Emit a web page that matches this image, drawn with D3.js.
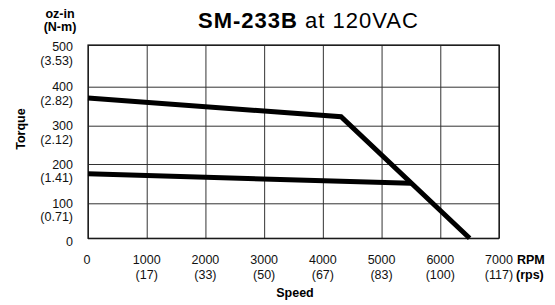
<!DOCTYPE html>
<html><head><meta charset="utf-8">
<script src="https://cdn.jsdelivr.net/npm/d3@7"></script>
<style>
html,body{margin:0;padding:0;background:#fff;}
svg{display:block;font-family:"Liberation Sans",Arial,Helvetica,sans-serif;}
</style></head>
<body>
<svg id="chart" width="555" height="305"></svg>
<script>
// ---- data ----
const speedTicks = [0,1000,2000,3000,4000,5000,6000,7000];
const speedRps   = ["","(17)","(33)","(50)","(67)","(83)","(100)","(117)"];
const torqueTicks = [0,100,200,300,400,500];
const torqueNm    = ["","(0.71)","(1.41)","(2.12)","(2.82)","(3.53)"];
const pulloutRpm    = [0,4310,6500];
const pulloutTorque = [371,323,0];
const pullinRpm     = [0,5500];
const pullinTorque  = [175,151];

const svg = d3.select("#chart");
const L=88, R=499, T=45, B=238.3;
const x = d3.scaleLinear().domain([0,7000]).range([L,R]);
// grid in the source is slightly non-uniform; follow it piecewise
const y = d3.scaleLinear().domain(torqueTicks).range([B,203.3,164,125.7,86.7,T]);

// grid via axes
const gx = svg.append("g").attr("transform",`translate(0,${B})`)
  .call(d3.axisBottom(x).tickValues(speedTicks).tickSize(-(B-T)).tickFormat(""));
const gy = svg.append("g").attr("transform",`translate(${L},0)`)
  .call(d3.axisLeft(y).tickValues(torqueTicks).tickSize(-(R-L)).tickFormat(""));
[gx,gy].forEach(g=>{
  g.select(".domain").remove();
  g.selectAll(".tick line").attr("stroke","#333").attr("stroke-width",1);
});
// frame
svg.append("rect").attr("x",L).attr("y",T).attr("width",R-L).attr("height",B-T)
  .attr("fill","none").attr("stroke","#111").attr("stroke-width",1.2);

// curves
const line = d3.line().x(d=>x(d[0])).y(d=>y(d[1]));
svg.append("path").datum(pulloutRpm.map((r,i)=>[r,pulloutTorque[i]]))
  .attr("d",line).attr("fill","none").attr("stroke","#000").attr("stroke-width",5)
  .attr("stroke-linejoin","miter");
svg.append("path").datum(pullinRpm.map((r,i)=>[r,pullinTorque[i]]))
  .attr("d",line).attr("fill","none").attr("stroke","#000").attr("stroke-width",5);

// y tick labels
const FS = 12.5, LH = 13.6;
const yl = svg.append("g").attr("font-size",FS).attr("text-anchor","end").attr("fill","#111");
torqueTicks.forEach((v,i)=>{
  const yy = y(v);
  const off = v===0 ? 8 : (v===500 ? 6 : 4.5);
  yl.append("text").attr("x",73).attr("y", yy+off).text(v);
  if(torqueNm[i]) yl.append("text").attr("x",73).attr("y", yy+off+LH).text(torqueNm[i]);
});
// x tick labels
const xl = svg.append("g").attr("font-size",FS).attr("text-anchor","middle").attr("fill","#111");
speedTicks.forEach((v,i)=>{
  const xx = x(v) - (i===0?1:0);
  xl.append("text").attr("x",xx).attr("y",264).text(v);
  if(speedRps[i]) xl.append("text").attr("x",xx).attr("y",264+LH+1).text(speedRps[i]);
});
// unit labels
svg.append("text").attr("x",517).attr("y",264).attr("font-size",FS).attr("font-weight","bold").text("RPM");
svg.append("text").attr("x",516).attr("y",264+LH+1).attr("font-size",FS).attr("font-weight","bold").text("(rps)");
svg.append("text").attr("x",295).attr("y",297).attr("font-size",FS).attr("font-weight","bold")
  .attr("text-anchor","middle").text("Speed");
svg.append("text").attr("x",60).attr("y",17.5).attr("font-size",FS).attr("font-weight","bold")
  .attr("text-anchor","middle").text("oz-in");
svg.append("text").attr("x",60).attr("y",17.5+LH).attr("font-size",FS).attr("font-weight","bold")
  .attr("text-anchor","middle").text("(N-m)");
svg.append("text").attr("transform","translate(25,129) rotate(-90)").attr("font-size",FS)
  .attr("font-weight","bold").attr("text-anchor","middle").text("Torque");

// title
const title = svg.append("text").attr("x",198).attr("y",28.3).attr("font-size",22)
  .attr("letter-spacing","1px").attr("fill","#000");
title.append("tspan").attr("font-weight","bold").text("SM-233B");
title.append("tspan").text(" at 120VAC");
</script>
</body></html>
